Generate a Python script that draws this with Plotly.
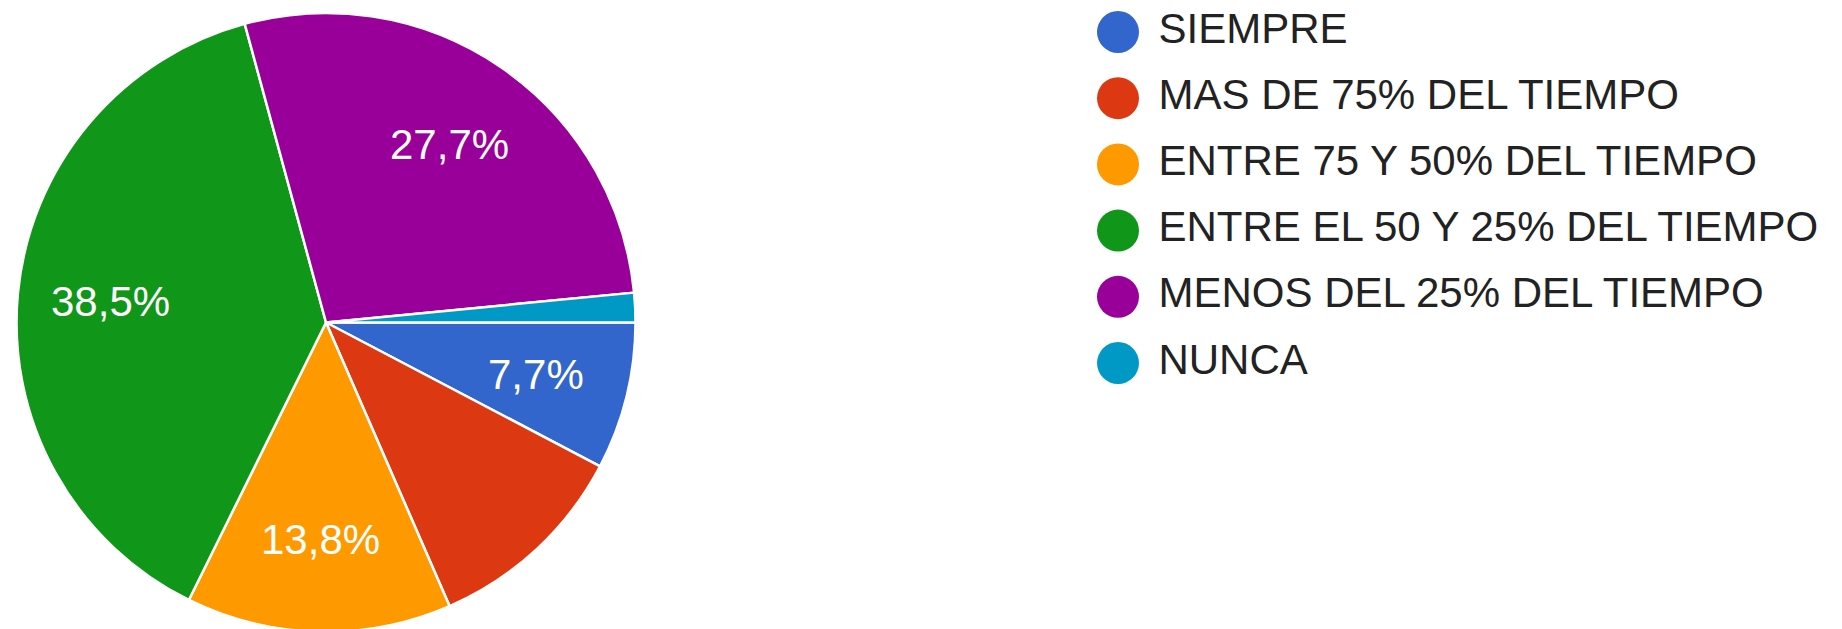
import math
import plotly.graph_objects as go

categories = [
    "SIEMPRE",
    "MAS DE 75% DEL TIEMPO",
    "ENTRE 75 Y 50% DEL TIEMPO",
    "ENTRE EL 50 Y 25% DEL TIEMPO",
    "MENOS DEL 25% DEL TIEMPO",
    "NUNCA",
]
counts = [5, 7, 9, 25, 18, 1]
show_label = [True, False, True, True, True, False]
colors = ["#3366cc", "#dc3912", "#ff9900", "#109618", "#990099", "#0099c6"]

FONT = "Liberation Sans, Arial, sans-serif"
START_ANGLE = 90      # first slice starts at 3 o'clock, going clockwise
LABEL_RADIUS = 0.70   # fraction of the pie radius where percentage labels sit

total = sum(counts)

fig = go.Figure()
fig.add_trace(go.Pie(
    labels=categories,
    values=counts,
    textinfo="none",
    marker=dict(colors=colors, line=dict(color="white", width=2.5)),
    sort=False,
    direction="clockwise",
    rotation=START_ANGLE,
    domain=dict(x=[0, 0.3453], y=[0, 1]),
    showlegend=False,
    hoverinfo="label+percent",
))

# percentage labels placed on an overlaid unit-circle axis, at each slice's mid angle
annotations = []
cum = 0
for c, s in zip(counts, show_label):
    mid = math.radians(START_ANGLE + 360 * (cum + c / 2) / total)
    cum += c
    if not s:
        continue
    annotations.append(dict(
        x=LABEL_RADIUS * math.sin(mid),
        y=LABEL_RADIUS * math.cos(mid),
        xref="x2", yref="y2",
        text=f"{c / total * 100:.1f}%".replace(".", ","),
        showarrow=False,
        xanchor="center", yanchor="middle",
        font=dict(family=FONT, size=42, color="white"),
    ))

# legend drawn as scatter markers + text on hidden axes
rows = [-i for i in range(len(categories))]
fig.add_trace(go.Scatter(
    x=[0] * len(categories),
    y=rows,
    mode="markers",
    marker=dict(size=42, color=colors, line=dict(width=0)),
    cliponaxis=False,
    showlegend=False,
    hoverinfo="skip",
    xaxis="x", yaxis="y",
))
fig.add_trace(go.Scatter(
    x=[0.0488] * len(categories),
    y=rows,
    mode="text",
    text=categories,
    textposition="middle right",
    textfont=dict(family=FONT, size=42, color="#222222"),
    cliponaxis=False,
    showlegend=False,
    hoverinfo="skip",
    xaxis="x", yaxis="y",
))

fig.update_layout(
    width=1842,
    height=629,
    margin=dict(l=0, r=0, t=5, b=5),
    paper_bgcolor="white",
    plot_bgcolor="rgba(0,0,0,0)",
    xaxis=dict(domain=[0.55, 1.0], range=[-0.1169, 0.8831], visible=False, fixedrange=True),
    yaxis=dict(domain=[0, 1], range=[-9.063, 0.287], visible=False, fixedrange=True),
    xaxis2=dict(domain=[0, 0.3453], range=[-1, 1], visible=False, fixedrange=True,
                scaleanchor="y2", scaleratio=1),
    yaxis2=dict(domain=[0, 1], range=[-1, 1], visible=False, fixedrange=True),
    annotations=annotations,
)

fig.write_html("out.html")
